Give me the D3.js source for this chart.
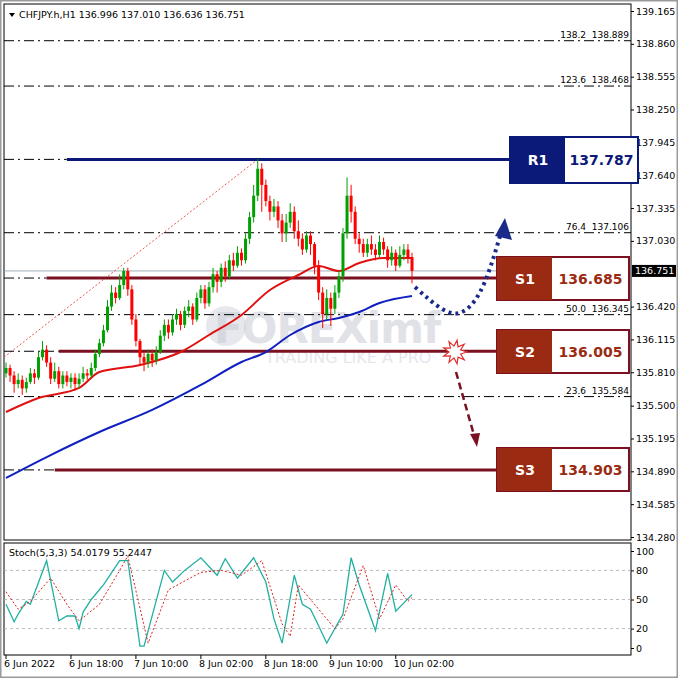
<!DOCTYPE html>
<html>
<head>
<meta charset="utf-8">
<script src="https://cdn.jsdelivr.net/npm/d3@7"></script>
<style>
  body { margin: 0; background: #fff; }
  text { font-family: Tahoma, "DejaVu Sans", sans-serif; }
  .tick-label { font-size: 9.5px; fill: #000; }
</style>
</head>
<body>
<svg id="chart" width="678" height="678"></svg>
<script>
// candles (H1), open = previous close
const closes = [135.85,135.78,135.70,135.74,135.66,135.72,135.80,135.76,135.95,136.02,
  135.90,135.75,135.82,135.70,135.78,135.72,135.76,135.70,135.75,135.80,
  135.78,135.85,135.98,136.08,136.20,136.42,136.55,136.50,136.62,136.75,
  136.58,136.30,136.10,135.95,135.90,135.98,135.92,136.00,136.15,136.25,
  136.18,136.30,136.35,136.25,136.38,136.42,136.30,136.50,136.58,136.45,
  136.60,136.72,136.65,136.78,136.70,136.85,136.80,136.92,136.85,137.05,
  137.25,137.45,137.70,137.55,137.40,137.30,137.35,137.22,137.10,137.20,
  137.30,137.12,137.05,136.95,137.08,137.00,136.80,136.55,136.35,136.50,
  136.40,136.55,136.70,137.10,137.45,137.30,137.05,137.00,136.92,137.00,
  136.95,136.90,137.02,136.95,136.85,136.92,136.80,136.90,136.95,136.88,136.751];
const highs = [135.90,135.88,135.82,135.80,135.78,135.76,135.85,135.84,136.00,136.10,
  136.06,135.95,135.90,135.86,135.82,135.82,135.80,135.80,135.80,135.86,
  135.84,135.90,136.02,136.12,136.25,136.48,136.62,136.60,136.72,136.78,
  136.78,136.62,136.35,136.12,136.00,136.02,136.02,136.05,136.20,136.30,
  136.30,136.35,136.40,136.38,136.42,136.48,136.45,136.55,136.62,136.62,
  136.65,136.78,136.75,136.82,136.84,136.90,136.92,136.98,136.96,137.10,
  137.30,137.55,137.79,137.75,137.60,137.45,137.42,137.40,137.28,137.28,
  137.38,137.35,137.22,137.10,137.12,137.12,137.02,136.85,136.60,136.58,
  136.55,136.62,136.75,137.15,137.62,137.55,137.35,137.10,137.05,137.05,
  137.08,137.00,137.08,137.06,136.98,136.98,136.95,136.98,137.00,137.00,136.92];
const lows = [135.76,135.72,135.62,135.66,135.60,135.62,135.70,135.70,135.74,135.92,
  135.86,135.70,135.72,135.66,135.66,135.68,135.66,135.64,135.66,135.72,
  135.74,135.76,135.82,135.95,136.05,136.18,136.38,136.45,136.48,136.58,
  136.52,136.25,136.05,135.88,135.82,135.85,135.86,135.88,135.98,136.10,
  136.12,136.15,136.25,136.20,136.22,136.32,136.25,136.28,136.45,136.40,
  136.42,136.55,136.55,136.60,136.65,136.68,136.75,136.78,136.80,136.82,
  137.00,137.20,137.40,137.30,137.35,137.22,137.25,137.15,137.02,137.02,
  137.15,137.05,136.98,136.90,136.92,136.90,136.72,136.48,136.22,136.30,
  136.24,136.35,136.50,136.65,137.05,137.20,137.00,136.92,136.88,136.88,
  136.90,136.85,136.88,136.90,136.78,136.80,136.75,136.78,136.85,136.82,136.636];
const firstOpen = 135.80;

// moving averages (bar index, price)
const redMaBars = [0, 8, 18, 23, 33, 43, 50, 58, 65, 72, 77, 82, 87, 93, 100];
const redMaVals = [135.441, 135.571, 135.664, 135.812, 135.877, 135.998, 136.156, 136.342,
  136.574, 136.713, 136.797, 136.750, 136.825, 136.871, 136.871];
const blueMaBars = [0, 11, 23, 36, 48, 58, 64, 70, 77, 82, 87, 92, 100];
const blueMaVals = [134.828, 135.041, 135.255, 135.460, 135.692, 135.905, 135.998, 136.156,
  136.277, 136.314, 136.370, 136.453, 136.518];

// fibonacci levels
const fibLabels = ["138.2", "123.6", "76.4", "50.0", "23.6"];
const fibPrices = [138.889, 138.468, 137.106, 136.345, 135.584];

// support / resistance
const srNames = ["R1", "S1", "S2", "S3"];
const srPrices = [137.787, 136.685, 136.005, 134.903];
const srStartBar = [15, 10, 13, 12];

const priceTicks = [139.165, 138.860, 138.555, 138.250, 137.945, 137.640, 137.335, 137.030,
  136.420, 136.115, 135.810, 135.500, 135.195, 134.890, 134.585, 134.280];

// stochastic (bar index, value)
const kBars = [0, 2, 3, 5, 6, 10, 13, 15, 17, 18, 19, 21, 24, 28, 30, 33, 34, 39, 41, 42,
  44, 48, 52, 54, 57, 61, 64, 66, 68, 71, 73, 75, 77, 79, 83, 85, 87, 91, 94, 96, 100];
const kVals = [45, 27, 35, 48, 45, 90, 28, 33, 33, 20, 37, 50, 65, 90, 90, 2, 2, 80, 68, 72,
  80, 93, 75, 92, 72, 93, 68, 30, 5, 75, 45, 40, 23, 5, 35, 93, 65, 18, 77, 38, 55];
const dBars = [0, 3, 6, 11, 15, 18, 23, 28, 30, 35, 40, 48, 53, 58, 63, 68, 70, 72, 77, 81, 83, 88, 92, 96, 99, 100];
const dVals = [58, 40, 48, 72, 45, 28, 45, 80, 95, 5, 60, 78, 80, 75, 90, 25, 12, 65, 40, 20, 30, 85, 30, 65, 48, 52];
const stochLevels = [80, 50, 20];
const stochTicks = [100, 80, 50, 20, 0];

const timeLabels = ["6 Jun 2022", "6 Jun 18:00", "7 Jun 10:00", "8 Jun 02:00", "8 Jun 18:00", "9 Jun 10:00", "10 Jun 02:00"];
const timeBars = [0, 16, 32, 48, 64, 80, 96];

const svg = d3.select("#chart");
const plotL = 4, plotR = 631;
const navy = "#0b1a78", maroon = "#7b1020", brown = "#9b2a12";

// frame
svg.append("rect").attr("x", 0.5).attr("y", 0.5).attr("width", 677).attr("height", 677)
   .attr("fill", "#fff").attr("stroke", "#9a9a9a").attr("stroke-width", 2);
svg.append("rect").attr("x", plotL).attr("y", 4).attr("width", plotR - plotL).attr("height", 536)
   .attr("fill", "none").attr("stroke", "#000");
svg.append("rect").attr("x", plotL).attr("y", 543).attr("width", plotR - plotL).attr("height", 112)
   .attr("fill", "none").attr("stroke", "#000");

const x = d3.scaleLinear().domain([0, 1]).range([6, 10.06]);
const y = d3.scaleLinear().domain([134.280, 139.165]).range([537, 11]);
const ys = d3.scaleLinear().domain([0, 100]).range([648, 551]);

// price axis
const pAxis = svg.append("g").attr("transform", `translate(${plotR},0)`)
  .call(d3.axisRight(y).tickValues(priceTicks).tickSize(3).tickFormat(d3.format(".3f")));
pAxis.select(".domain").remove();
pAxis.selectAll("text").attr("class", "tick-label").attr("x", 5).style("font-size", "9.5px");

// stoch axis
const sAxis = svg.append("g").attr("transform", `translate(${plotR},0)`)
  .call(d3.axisRight(ys).tickValues(stochTicks).tickSize(3));
sAxis.select(".domain").remove();
sAxis.selectAll("text").attr("class", "tick-label").attr("x", 5).style("font-size", "9.5px");

// time axis
timeBars.forEach((b, i) => {
  svg.append("line").attr("x1", x(b)).attr("x2", x(b)).attr("y1", 655).attr("y2", 659).attr("stroke", "#000");
  svg.append("text").attr("x", x(b) - 2).attr("y", 667).attr("class", "tick-label")
     .style("font-size", "9.5px").text(timeLabels[i]);
});

// watermark
svg.append("circle").attr("cx", 226).attr("cy", 326).attr("r", 20).attr("fill", "#c9ccd6").attr("opacity", 0.45);
svg.append("text").attr("x", 214).attr("y", 343).text("FOREXimf")
   .attr("font-size", 42).attr("font-weight", "bold").attr("fill", "#c9ccd6").attr("opacity", 0.55)
   .attr("letter-spacing", -1);
svg.append("text").attr("x", 265).attr("y", 363).text("TRADING LIKE A PRO")
   .attr("font-size", 16).attr("fill", "#d5d8e0").attr("opacity", 0.6);

// fib levels
const dashDot = "10,4,2,4";
fibPrices.forEach((p, i) => {
  svg.append("line").attr("x1", plotL).attr("x2", plotR).attr("y1", y(p)).attr("y2", y(p))
     .attr("stroke", "#000").attr("stroke-dasharray", dashDot);
  svg.append("text").attr("x", 586).attr("y", y(p) - 3).attr("text-anchor", "end")
     .attr("class", "tick-label").style("font-size", "9px").text(fibLabels[i]);
  svg.append("text").attr("x", 629).attr("y", y(p) - 3).attr("text-anchor", "end")
     .attr("class", "tick-label").style("font-size", "9px").text(p.toFixed(3));
});

// current price line
svg.append("line").attr("x1", plotL).attr("x2", plotR).attr("y1", y(136.751)).attr("y2", y(136.751))
   .attr("stroke", "#8a9aa8").attr("stroke-width", 0.8);

// red dotted trend line
svg.append("line").attr("x1", plotL).attr("y1", y(135.95)).attr("x2", x(62)).attr("y2", y(137.787))
   .attr("stroke", "#e03020").attr("stroke-dasharray", "2,2").attr("stroke-width", 0.8);

// S/R lines
srPrices.forEach((p, i) => {
  const c = i === 0 ? navy : maroon;
  svg.append("line").attr("x1", plotL).attr("x2", x(srStartBar[i])).attr("y1", y(p)).attr("y2", y(p))
     .attr("stroke", "#000").attr("stroke-dasharray", dashDot);
  svg.append("line").attr("x1", x(srStartBar[i])).attr("x2", i === 0 ? 510 : 497)
     .attr("y1", y(p)).attr("y2", y(p)).attr("stroke", c).attr("stroke-width", 3);
});

// moving averages
const line = d3.line().x(d => x(d[0])).y(d => y(d[1])).curve(d3.curveMonotoneX);
svg.append("path").attr("d", line(d3.zip(blueMaBars, blueMaVals)))
   .attr("fill", "none").attr("stroke", "#1020c0").attr("stroke-width", 2);
svg.append("path").attr("d", line(d3.zip(redMaBars, redMaVals)))
   .attr("fill", "none").attr("stroke", "#e01010").attr("stroke-width", 2);

// candles
const opens = [firstOpen].concat(closes.slice(0, -1));
const candles = svg.append("g");
closes.forEach((c, i) => {
  const o = opens[i];
  const col = c >= o ? "#00a000" : "#ff0000";
  candles.append("line").attr("x1", x(i)).attr("x2", x(i)).attr("y1", y(highs[i])).attr("y2", y(lows[i]))
         .attr("stroke", col);
  candles.append("rect").attr("x", x(i) - 1.5).attr("width", 3)
         .attr("y", y(Math.max(o, c))).attr("height", Math.max(1, Math.abs(y(o) - y(c))))
         .attr("fill", col);
});

// projection arrows
svg.append("path").attr("d", "M415,287 C435,305 450,318 462,312 C480,304 490,270 500,236")
   .attr("fill", "none").attr("stroke", "#1a2a8a").attr("stroke-width", 4).attr("stroke-dasharray", "3,4");
svg.append("path").attr("d", "M495,236 L505,218 L512,240 Z").attr("fill", "#1a2a8a");
svg.append("line").attr("x1", 456).attr("y1", 372).attr("x2", 474).attr("y2", 435)
   .attr("stroke", maroon).attr("stroke-width", 2.5).attr("stroke-dasharray", "7,4");
svg.append("path").attr("d", "M470,434 L477,447 L480,433 Z").attr("fill", maroon);
// starburst
const star = d3.range(18).map(k => {
  const a = k * Math.PI / 9, r = k % 2 ? 6 : 12;
  return [455 + r * Math.cos(a), 352 + r * Math.sin(a)];
});
svg.append("polygon").attr("points", star.map(p => p.join(",")).join(" "))
   .attr("fill", "#fff").attr("stroke", "#e03030").attr("stroke-width", 1.2);

// S/R boxes
const boxTop = [137, 257, 330, 448];
srPrices.forEach((p, i) => {
  const c = i === 0 ? navy : brown;
  const bx = i === 0 ? 510 : 497, bw = i === 0 ? 128 : 132;
  const by = boxTop[i], bh = i === 0 ? 46 : 43;
  svg.append("rect").attr("x", bx).attr("y", by).attr("width", bw).attr("height", bh)
     .attr("fill", "#fff").attr("stroke", i === 0 ? navy : maroon).attr("stroke-width", 2);
  svg.append("rect").attr("x", bx).attr("y", by).attr("width", 55).attr("height", bh).attr("fill", c);
  svg.append("text").attr("x", bx + 28).attr("y", by + bh / 2 + 5).attr("text-anchor", "middle")
     .attr("fill", "#fff").attr("font-weight", "bold").attr("font-size", 14).text(srNames[i]);
  svg.append("text").attr("x", bx + 55 + (bw - 55) / 2).attr("y", by + bh / 2 + 5).attr("text-anchor", "middle")
     .attr("fill", c).attr("font-weight", "bold").attr("font-size", 14).text(p.toFixed(3));
});

// current price tag
svg.append("rect").attr("x", 632).attr("y", y(136.751) - 6).attr("width", 44).attr("height", 12).attr("fill", "#000");
svg.append("text").attr("x", 635).attr("y", y(136.751) + 3.5).attr("fill", "#fff")
   .style("font-size", "9.5px").text("136.751");

// title
svg.append("path").attr("d", "M9,13 L15,13 L12,17 Z").attr("fill", "#000");
svg.append("text").attr("x", 19).attr("y", 18).attr("class", "tick-label").style("font-size", "9.5px")
   .text("CHFJPY.h,H1  136.996 137.010 136.636 136.751");

// stochastic
stochLevels.forEach(v => {
  svg.append("line").attr("x1", plotL).attr("x2", plotR).attr("y1", ys(v)).attr("y2", ys(v))
     .attr("stroke", "#aaa").attr("stroke-dasharray", "3,3").attr("stroke-width", 0.8);
});
const sline = d3.line().x(d => x(d[0])).y(d => ys(d[1]));
svg.append("path").attr("d", sline(d3.zip(kBars, kVals)))
   .attr("fill", "none").attr("stroke", "#20b0a0").attr("stroke-width", 1.3);
svg.append("path").attr("d", sline(d3.zip(dBars, dVals)))
   .attr("fill", "none").attr("stroke", "#e02020").attr("stroke-width", 1).attr("stroke-dasharray", "2,2");
svg.append("text").attr("x", 9).attr("y", 556).attr("class", "tick-label").style("font-size", "9.5px")
   .text("Stoch(5,3,3) 54.0179 55.2447");
</script>
</body>
</html>
